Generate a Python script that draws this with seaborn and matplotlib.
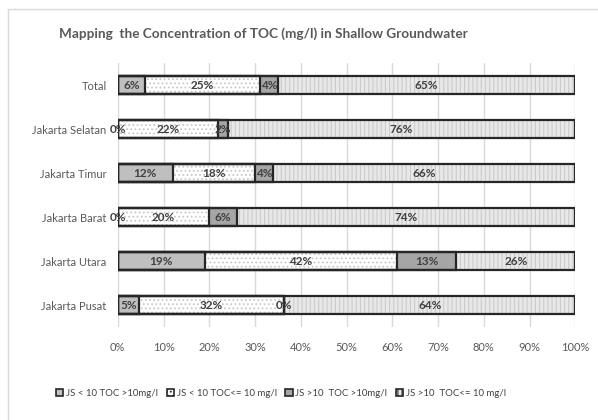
import matplotlib
matplotlib.use("Agg")
import matplotlib.pyplot as plt
from matplotlib.patches import Patch, Rectangle
import numpy as np
import pandas as pd
import seaborn as sns

# Sites (top to bottom) and share of samples in each class (%)
sites = ["Total", "Jakarta Selatan", "Jakarta Timur", "Jakarta Barat",
         "Jakarta Utara", "Jakarta Pusat"]
js_lt10_toc_gt10 = [6, 0, 12, 0, 19, 4.6]
js_lt10_toc_le10 = [25, 22, 18, 20, 42, 31.8]
js_gt10_toc_gt10 = [4, 2, 4, 6, 13, 0]
js_gt10_toc_le10 = [65, 76, 66, 74, 26, 63.6]

series_names = ["JS < 10 TOC >10mg/l", "JS < 10 TOC<= 10 mg/l",
                "JS >10  TOC >10mg/l", "JS >10  TOC<= 10 mg/l"]
xticks = [0, 10, 20, 30, 40, 50, 60, 70, 80, 90, 100]

series = [js_lt10_toc_gt10, js_lt10_toc_le10, js_gt10_toc_gt10, js_gt10_toc_le10]
fills = ["#bfbfbf", "#ffffff", "#a6a6a6", "#e8e8e8"]
hatch_cols = ["#bfbfbf", "#c8c8c8", "#a6a6a6", "#cccccc"]
hatches = [None, "....", None, "||||"]
edge = "#262626"
text_col = "#595959"

sns.set_theme(style="white")
plt.rcParams["font.family"] = ["Lato", "DejaVu Sans"]
plt.rcParams["hatch.linewidth"] = 0.8

fig = plt.figure(figsize=(5.98, 4.20), dpi=100)
ax = fig.add_axes([0.197, 0.221, 0.765, 0.629])

vals = np.array(series, dtype=float)
cum = np.cumsum(vals, axis=0)

# Stacked segments: draw cumulative totals from the widest down so each
# narrower bar overlays the start of the previous one.
for k in range(3, -1, -1):
    df = pd.DataFrame({"site": sites, "value": cum[k]})
    sns.barplot(data=df, x="value", y="site", orient="h", ax=ax,
                color=fills[k], saturation=1, width=0.41,
                hatch=hatches[k], edgecolor=hatch_cols[k], linewidth=0,
                zorder=2)
    sns.barplot(data=df, x="value", y="site", orient="h", ax=ax,
                fill=False, edgecolor=edge, linewidth=1.6, width=0.41,
                zorder=3)

# Percentage labels centred in each segment
for k in range(4):
    starts = cum[k] - vals[k]
    for i, v in enumerate(vals[k]):
        ax.text(starts[i] + v / 2, i, f"{v:.0f}%", ha="center", va="center",
                fontsize=8.5, fontweight="bold", color="#404040", zorder=4)

ax.set_xlim(0, 100)
ax.set_ylim(5.5, -0.5)
ax.set_xticks(xticks)
ax.set_xticklabels([f"{t}%" for t in xticks])
ax.set_xlabel("")
ax.set_ylabel("")
ax.tick_params(axis="both", length=0, labelsize=8, labelcolor=text_col)
ax.tick_params(axis="x", pad=11)
ax.tick_params(axis="y", pad=8)
ax.grid(axis="x", color="#d9d9d9", linewidth=1, zorder=0)
ax.grid(axis="y", visible=False)
ax.set_axisbelow(True)
for s in ax.spines.values():
    s.set_visible(False)

fig.text(0.44, 0.921, "Mapping  the Concentration of TOC (mg/l) in Shallow Groundwater",
         ha="center", va="center", fontsize=9.8, fontweight="bold", color=text_col)

handles = [Patch(facecolor=fills[k], edgecolor=edge, linewidth=1.2, hatch=hatches[k])
           for k in range(4)]
fig.legend(handles, series_names, loc="center", bbox_to_anchor=(0.47, 0.064),
           ncol=4, frameon=False, fontsize=6.9, handlelength=0.75, handleheight=0.75,
           handletextpad=0.3, columnspacing=0.9, labelcolor="#404040")

# Chart area frame
fig.patches.append(Rectangle((8 / 598, -0.05), 1.2, 1 - 9 / 420 + 0.05,
                             transform=fig.transFigure, fill=False,
                             edgecolor="#d9d9d9", linewidth=1))

fig.savefig("out.png", dpi=100, facecolor="white")
